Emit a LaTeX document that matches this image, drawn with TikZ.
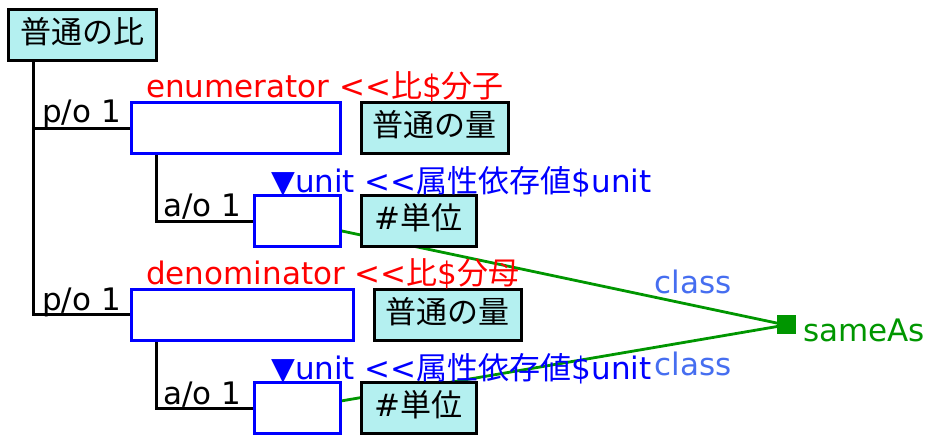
\documentclass[tikz,border=0pt]{standalone}
\usepackage{fontspec}
\setmainfont{DejaVu Sans}
\newfontfamily\cjk{Noto Sans CJK JP}
\usetikzlibrary{backgrounds}
\definecolor{boxfill}{RGB}{180,240,240}
\definecolor{relblue}{RGB}{0,0,255}
\definecolor{lnkgreen}{RGB}{0,150,0}
\definecolor{classblue}{RGB}{70,110,240}
\newcommand{\ltlt}{<\kern0pt<}
\begin{document}
\begin{tikzpicture}[x=1pt,y=-1pt,
  every node/.style={font=\fontsize{31}{36}\selectfont},
  cbox/.style={draw=black,line width=3pt,fill=boxfill,inner sep=0pt,minimum height=51pt,text height=22pt,text depth=5pt},
  slot/.style={draw=relblue,line width=3pt,fill=white,inner sep=0pt,minimum height=51pt},
  txt/.style={inner sep=0pt,anchor=base west},
  tree/.style={draw=black,line width=3pt},
  lnk/.style={draw=lnkgreen,line width=2.8pt}]
\useasboundingbox (0,0) rectangle (930,435);
% concept boxes
\node[cbox,minimum width=148pt] (root) at (82,35) {\cjk 普通の比};
\node[slot,minimum width=209pt] (e1) at (235.5,128.5) {};
\node[cbox,minimum width=147pt] (q1) at (434.5,128.5) {\cjk 普通の量};
\node[slot,minimum width=86pt] (u1) at (297,221.5) {};
\node[cbox,minimum width=115pt] (t1) at (418.5,221.5) {\#{\cjk 単位}};
\node[slot,minimum width=222pt] (e2) at (242,315) {};
\node[cbox,minimum width=147pt] (q2) at (447.5,315) {\cjk 普通の量};
\node[slot,minimum width=86pt] (u2) at (297,408.5) {};
\node[cbox,minimum width=115pt] (t2) at (418.5,408.5) {\#{\cjk 単位}};
\node[fill=lnkgreen,inner sep=0pt,minimum size=19pt] (sq) at (786,325) {};
% labels
\node[txt] (po1) at (42,123) {p/o 1};
\node[txt,text=red] (en) at (146,98) {enumerator \ltlt{\cjk 比}\${\cjk 分子}};
\node[txt] (ao1) at (163,217) {a/o 1};
\node[txt,text=relblue] (un1) at (271,193) {▼unit \ltlt{\cjk 属性依存値}\$unit};
\node[txt] (po2) at (42,311) {p/o 1};
\node[txt,text=red] (de) at (146,285) {denominator \ltlt{\cjk 比}\${\cjk 分母}};
\node[txt] (ao2) at (163,405) {a/o 1};
\node[txt,text=relblue] (un2) at (271,380) {▼unit \ltlt{\cjk 属性依存値}\$unit};
\node[txt,text=lnkgreen] (sa) at (803,342) {sameAs};
% tree connectors
\draw[tree] (root.south west) ++(27,0) |- (e1.west);
\draw[tree] (root.south west) ++(27,0) |- (e2.west);
\draw[tree] (e1.south west) ++(27,0) |- (u1.west);
\draw[tree] (e2.south west) ++(27,0) |- (u2.west);
% sameAs links behind boxes
\begin{pgfonlayer}{background}
\draw[lnk] (u1.center) -- (sq.center) node[pos=0.81,anchor=south,inner sep=0pt,yshift=10pt,text=classblue] (c1) {class};
\draw[lnk] (u2.center) -- (sq.center) node[pos=0.81,anchor=north,inner sep=0pt,yshift=-10pt,text=classblue] (c2) {class};
\end{pgfonlayer}
\end{tikzpicture}
\end{document}
